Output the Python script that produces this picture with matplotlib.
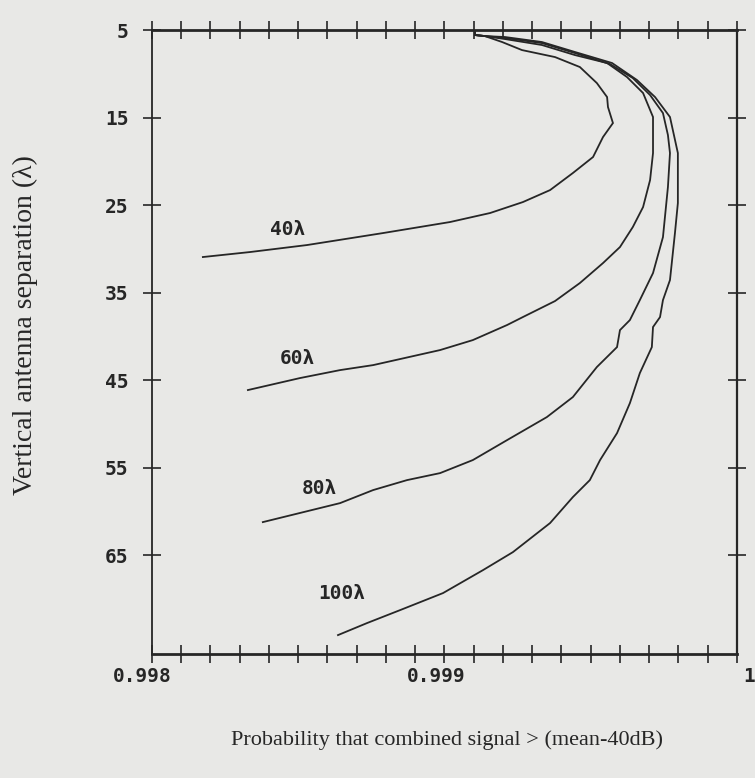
import matplotlib
matplotlib.use("Agg")
import matplotlib.pyplot as plt
from matplotlib.ticker import FixedLocator, MultipleLocator
from matplotlib.transforms import ScaledTranslation

# Probability that combined signal exceeds (mean - 40 dB) versus vertical antenna separation
sep_40 = [5.0, 5.57, 5.69, 6.37, 7.29, 8.09, 9.23, 11.06, 12.66, 13.80, 15.63, 17.23,
          19.51, 21.34, 23.29, 24.66, 25.91, 26.94, 28.20, 29.57, 30.37, 30.94]
prob_40 = [0.999104, 0.999104, 0.999138, 0.999197, 0.999265, 0.999378, 0.999463, 0.999521,
           0.999556, 0.999559, 0.999576, 0.999542, 0.999508, 0.999439, 0.999361, 0.999268,
           0.999156, 0.999019, 0.998790, 0.998530, 0.998335, 0.998174]

sep_60 = [5.0, 5.57, 5.69, 6.03, 6.71, 7.86, 8.77, 10.37, 12.20, 14.94, 19.06, 22.14,
          25.23, 27.51, 29.80, 31.63, 33.91, 35.97, 37.80, 38.71, 40.43, 41.57, 43.29,
          43.86, 44.77, 46.14]
prob_60 = [0.999104, 0.999104, 0.999138, 0.999207, 0.999333, 0.999446, 0.999556, 0.999624,
           0.999679, 0.999713, 0.999713, 0.999703, 0.999679, 0.999644, 0.999600, 0.999542,
           0.999463, 0.999378, 0.999268, 0.999214, 0.999097, 0.998985, 0.998756, 0.998643,
           0.998506, 0.998328]

sep_80 = [5.0, 5.57, 5.69, 5.91, 6.49, 7.63, 8.89, 10.49, 12.43, 14.49, 17.00, 19.06,
          22.94, 28.66, 32.77, 35.86, 38.14, 39.29, 41.23, 43.51, 46.94, 49.23, 51.86,
          54.14, 55.63, 56.43, 57.57, 59.06, 61.23]
prob_80 = [0.999104, 0.999104, 0.999138, 0.999207, 0.999333, 0.999446, 0.999566, 0.999644,
           0.999703, 0.999747, 0.999764, 0.999771, 0.999764, 0.999747, 0.999713, 0.999668,
           0.999634, 0.999600, 0.999590, 0.999521, 0.999439, 0.999350, 0.999214, 0.999097,
           0.998985, 0.998872, 0.998756, 0.998643, 0.998379]

sep_100 = [5.0, 5.57, 5.69, 5.80, 6.37, 7.51, 8.77, 10.71, 12.66, 14.94, 19.06, 24.77,
           28.20, 33.57, 35.86, 37.80, 38.94, 41.23, 44.20, 47.63, 51.06, 54.14, 56.43,
           58.37, 61.34, 64.66, 66.71, 69.34, 71.29, 72.77, 74.14]
prob_100 = [0.999104, 0.999104, 0.999138, 0.999207, 0.999333, 0.999446, 0.999573, 0.999658,
            0.999720, 0.999771, 0.999798, 0.999798, 0.999788, 0.999771, 0.999747, 0.999737,
            0.999713, 0.999709, 0.999668, 0.999634, 0.999590, 0.999532, 0.999497, 0.999439,
            0.999361, 0.999234, 0.999132, 0.998995, 0.998848, 0.998735, 0.998636]

curve_labels = ["40λ", "60λ", "80λ", "100λ"]
label_prob = [0.998465, 0.998496, 0.998574, 0.998650]
label_sep = [27.74, 42.49, 57.34, 69.34]

x_major = [0.998, 0.999, 1.0]
x_major_text = ["0.998", "0.999", "1"]
y_ticks = [5, 15, 25, 35, 45, 55, 65]

bg = "#e8e8e6"
ink = "#262626"

fig = plt.figure(figsize=(7.55, 7.78), dpi=100, facecolor=bg)
ax = fig.add_axes([0.2013, 0.1594, 0.7748, 0.8020], facecolor=bg)

for xs, ys in [(prob_40, sep_40), (prob_60, sep_60), (prob_80, sep_80), (prob_100, sep_100)]:
    ax.plot(xs, ys, color=ink, lw=1.3, solid_joinstyle="miter")

mono = {"family": "DejaVu Sans Mono", "weight": "bold", "size": 14}
for txt, px, py in zip(curve_labels, label_prob, label_sep):
    ax.text(px, py, txt, ha="center", va="center", color=ink, fontdict=mono)

ax.set_xlim(0.998, 1.0)
ax.set_ylim(76.3, 5)

ax.xaxis.set_major_locator(FixedLocator(x_major))
ax.xaxis.set_minor_locator(MultipleLocator(0.0001))
ax.set_xticklabels(x_major_text)
ax.set_yticks(y_ticks)
ax.set_yticklabels([str(v) for v in y_ticks])

ax.tick_params(axis="x", which="both", direction="inout", length=13, width=1.2,
               top=True, bottom=True, color=ink, pad=3)
ax.tick_params(axis="y", which="major", direction="inout", length=13, width=1.2,
               left=True, right=True, color=ink, pad=10.5)
for lab in ax.get_xticklabels() + ax.get_yticklabels():
    lab.set_fontfamily("DejaVu Sans Mono")
    lab.set_fontweight("bold")
    lab.set_fontsize(14)
    lab.set_color(ink)

# nudge the x tick labels the way they sit on the axis
shifts = [-10, -8, 6]
for lab, dx in zip(ax.get_xticklabels(), shifts):
    lab.set_transform(lab.get_transform() + ScaledTranslation(dx / 100, 0, fig.dpi_scale_trans))
ax.get_xticklabels()[-1].set_horizontalalignment("left")

for side, lw in [("top", 2.0), ("bottom", 2.0), ("left", 1.3), ("right", 1.6)]:
    ax.spines[side].set_linewidth(lw)
    ax.spines[side].set_color(ink)

fig.text(0.592, 1 - 740 / 778, "Probability that combined signal > (mean-40dB)",
         ha="center", va="center", color=ink,
         fontdict={"family": "Liberation Serif", "size": 16})
fig.text(25 / 755, 1 - 325 / 778, "Vertical antenna separation (λ)", rotation=90,
         ha="center", va="center", color=ink,
         fontdict={"family": "Liberation Serif", "size": 20})

fig.savefig("out.png", dpi=100, facecolor=bg)
